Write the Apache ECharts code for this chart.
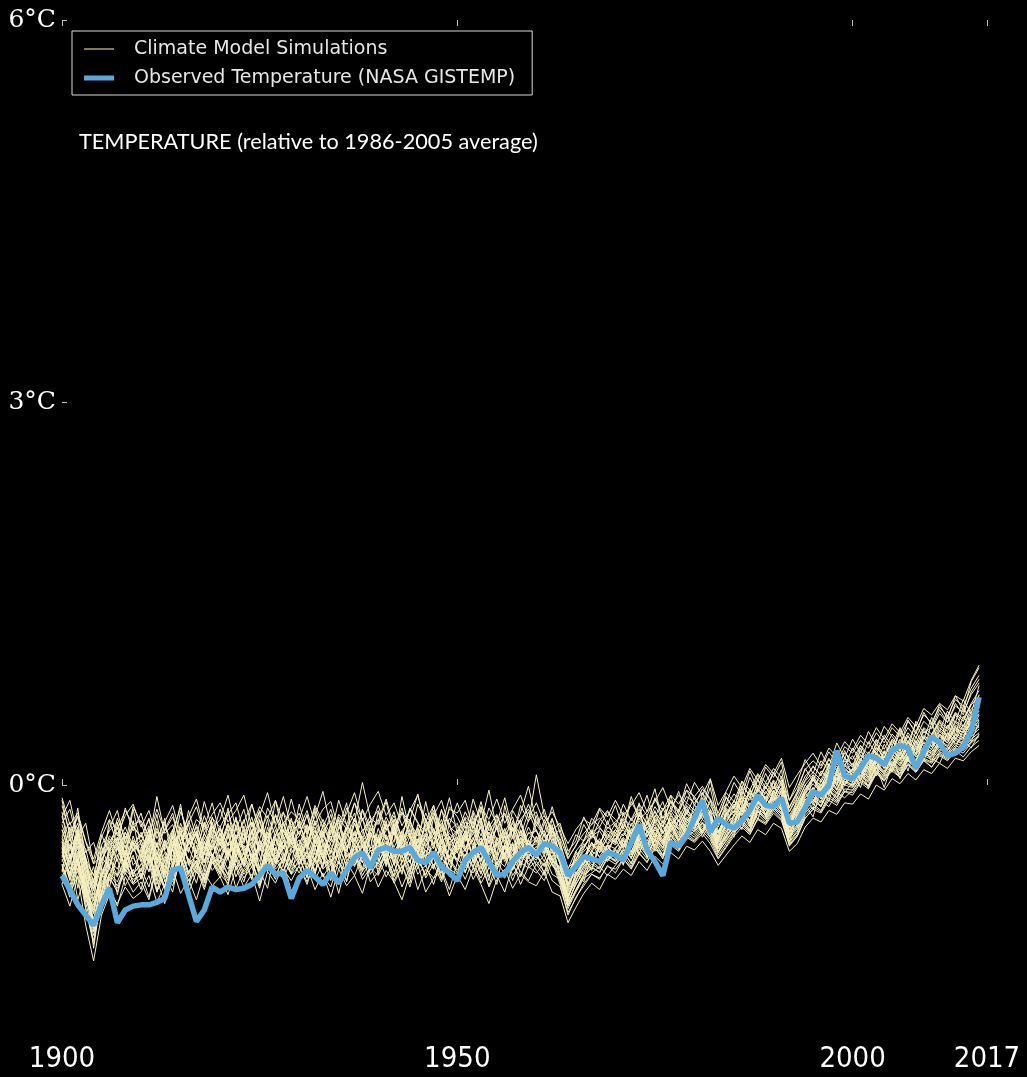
<!DOCTYPE html>
<html>
<head>
<meta charset="utf-8">
<script src="https://cdn.jsdelivr.net/npm/echarts@6/dist/echarts.min.js"></script>
<style>html,body{margin:0;padding:0;background:#000;}#c{width:1027px;height:1077px;}</style>
</head>
<body>
<div id="c"></div>
<script>
const firstYear = 1900;
const xTicks = [1900, 1950, 2000, 2017];
const yTicks = [0, 3, 6];
const legendNames = ['Climate Model Simulations', 'Observed Temperature (NASA GISTEMP)'];
const titleText = 'TEMPERATURE (relative to 1986-2005 average)';

const observed = [
-.71,-.82,-.94,-1.02,-1.10,-.94,-.81,-1.08,-.98,-.95,
-.94,-.94,-.92,-.89,-.67,-.65,-.86,-1.07,-.98,-.80,
-.84,-.80,-.82,-.81,-.78,-.71,-.63,-.70,-.69,-.89,
-.73,-.67,-.72,-.78,-.69,-.77,-.67,-.57,-.53,-.65,
-.51,-.49,-.52,-.52,-.49,-.59,-.61,-.53,-.64,-.69,
-.75,-.59,-.53,-.49,-.60,-.71,-.70,-.60,-.53,-.49,
-.55,-.46,-.48,-.53,-.71,-.64,-.56,-.58,-.60,-.53,
-.55,-.59,-.45,-.31,-.51,-.60,-.71,-.45,-.48,-.40,
-.26,-.12,-.37,-.26,-.31,-.34,-.28,-.20,-.08,-.16,
-.17,-.10,-.30,-.29,-.18,-.05,-.08,.00,.27,.07,
.05,.13,.23,.21,.16,.27,.31,.29,.13,.26,
.38,.33,.23,.25,.30,.42,.69];

const p1 = [-.52,-.71,-.45,-.80,-.98,-.66,-.75,-.49,-.63,-.57,-.68,-.41,-.59,-.73,-.50,-.38,-.62,-.55,-.71,-.46,-.58,-.37,-.66,-.52,-.74,-.44,-.60,-.35,-.53,-.69,-.47,-.63,-.39,-.57,-.75,-.51,-.34,-.60,-.48,-.66,-.42,-.58,-.71,-.45,-.55,-.36,-.64,-.52,-.73,-.49,-.61,-.40,-.56,-.70,-.47,-.59,-.38,-.67,-.50,-.44,-.57,-.49,-.62,-.71,-.90,-.68,-.76,-.54,-.63,-.48,-.55,-.42,-.58,-.39,-.49,-.33,-.46,-.30,-.41,-.26,-.35,-.22,-.31,-.44,-.29,-.37,-.20,-.28,-.12,-.19,-.08,-.15,-.33,-.21,-.09,-.02,-.11,.06,-.03,.09,.04,.15,.09,.21,.13,.25,.17,.30,.22,.27,.36,.29,.41,.35,.47,.42,.55];
const p2 = [-.70,-.88,-.65,-.97,-1.22,-.90,-.79,-.95,-.72,-.84,-.76,-.90,-.64,-.82,-.71,-.59,-.85,-.68,-.77,-.60,-.73,-.56,-.81,-.66,-.58,-.79,-.62,-.74,-.54,-.70,-.64,-.78,-.57,-.72,-.62,-.85,-.60,-.71,-.55,-.76,-.68,-.54,-.75,-.63,-.80,-.59,-.70,-.57,-.66,-.82,-.61,-.74,-.58,-.77,-.65,-.71,-.84,-.63,-.72,-.56,-.67,-.75,-.60,-.78,-1.02,-.88,-.79,-.70,-.74,-.63,-.69,-.58,-.66,-.54,-.60,-.50,-.57,-.47,-.52,-.41,-.45,-.38,-.46,-.58,-.49,-.40,-.33,-.39,-.27,-.31,-.22,-.28,-.47,-.40,-.26,-.19,-.22,-.12,-.16,-.05,-.08,.02,-.03,.09,.04,.11,.06,.16,.10,.19,.14,.24,.20,.28,.25,.33,.38];
const p3 = [-.35,-.56,-.41,-.63,-.81,-.52,-.44,-.60,-.37,-.50,-.43,-.58,-.36,-.52,-.61,-.33,-.47,-.39,-.55,-.30,-.48,-.35,-.57,-.42,-.29,-.51,-.40,-.60,-.36,-.46,-.52,-.31,-.44,-.58,-.37,-.27,-.49,-.41,-.56,-.34,-.45,-.60,-.32,-.49,-.38,-.54,-.28,-.46,-.40,-.57,-.37,-.50,-.43,-.26,-.55,-.44,-.35,-.52,-.31,-.47,-.41,-.54,-.36,-.58,-.73,-.60,-.52,-.46,-.50,-.38,-.45,-.33,-.41,-.28,-.37,-.24,-.33,-.20,-.29,-.16,-.22,-.14,-.25,-.33,-.18,-.24,-.08,-.16,-.03,-.10,.02,-.06,-.24,-.13,.00,.08,.02,.14,.07,.19,.14,.23,.18,.29,.22,.34,.27,.38,.31,.42,.38,.49,.44,.56,.50,.63,.70];
const p4 = [-.58,-.74,-.55,-.85,-1.08,-.79,-.66,-.72,-.60,-.77,-.65,-.80,-.57,-.70,-.84,-.52,-.68,-.59,-.73,-.55,-.69,-.51,-.63,-.76,-.54,-.67,-.48,-.71,-.58,-.64,-.56,-.72,-.50,-.66,-.59,-.78,-.53,-.64,-.47,-.70,-.60,-.49,-.68,-.55,-.74,-.52,-.63,-.78,-.57,-.66,-.70,-.54,-.65,-.49,-.72,-.60,-.56,-.75,-.59,-.51,-.63,-.55,-.70,-.74,-.95,-.82,-.71,-.64,-.69,-.56,-.60,-.51,-.62,-.45,-.55,-.42,-.50,-.38,-.46,-.34,-.39,-.30,-.37,-.52,-.41,-.33,-.27,-.35,-.19,-.26,-.15,-.22,-.40,-.33,-.19,-.11,-.16,-.04,-.09,.02,-.01,.08,.03,.14,.09,.18,.12,.22,.16,.24,.22,.30,.27,.35,.32,.40,.46];
const p5 = [-.44,-.63,-.38,-.57,-.90,-.71,-.52,-.46,-.65,-.40,-.57,-.35,-.62,-.48,-.41,-.66,-.45,-.33,-.59,-.50,-.38,-.55,-.47,-.64,-.36,-.52,-.44,-.61,-.40,-.32,-.58,-.43,-.35,-.54,-.62,-.39,-.51,-.30,-.47,-.60,-.40,-.53,-.37,-.61,-.45,-.33,-.56,-.48,-.38,-.63,-.49,-.36,-.60,-.44,-.52,-.31,-.58,-.45,-.65,-.42,-.35,-.51,-.46,-.62,-.81,-.63,-.57,-.45,-.53,-.47,-.39,-.50,-.35,-.44,-.30,-.41,-.28,-.36,-.22,-.32,-.27,-.17,-.30,-.40,-.25,-.15,-.24,-.09,-.19,-.05,-.13,-.02,-.30,-.18,-.07,.04,-.05,.10,.01,.13,.08,.19,.12,.24,.17,.29,.20,.33,.25,.37,.31,.42,.36,.47,.43,.53,.61];
const p6 = [-.78,-.95,-.72,-1.10,-1.38,-1.02,-.86,-.93,-.80,-.89,-.84,-.71,-.92,-.78,-.66,-.85,-.74,-.90,-.69,-.79,-.72,-.86,-.65,-.80,-.70,-.91,-.68,-.77,-.62,-.83,-.75,-.64,-.82,-.69,-.88,-.66,-.79,-.71,-.85,-.63,-.80,-.67,-.76,-.90,-.70,-.62,-.84,-.73,-.68,-.87,-.71,-.82,-.65,-.78,-.93,-.74,-.66,-.81,-.70,-.76,-.79,-.68,-.84,-.87,-1.08,-.96,-.85,-.77,-.82,-.70,-.74,-.66,-.71,-.60,-.67,-.56,-.62,-.53,-.58,-.48,-.51,-.44,-.52,-.63,-.55,-.47,-.40,-.45,-.35,-.39,-.30,-.34,-.52,-.46,-.33,-.26,-.29,-.20,-.23,-.14,-.15,-.07,-.11,.00,-.04,.05,.01,.09,.04,.12,.09,.17,.13,.21,.19,.26,.31];
const p7 = [-.25,-.44,-.30,-.58,-.71,-.47,-.36,-.29,-.50,-.33,-.41,-.27,-.49,-.35,-.22,-.46,-.38,-.53,-.30,-.42,-.34,-.48,-.26,-.43,-.37,-.21,-.45,-.32,-.50,-.28,-.39,-.24,-.46,-.33,-.19,-.41,-.52,-.30,-.44,-.36,-.27,-.43,-.35,-.18,-.40,-.49,-.31,-.25,-.45,-.38,-.45,-.29,-.37,-.52,-.33,-.23,-.42,-.36,-.28,-.47,-.31,-.40,-.26,-.48,-.66,-.52,-.44,-.37,-.33,-.42,-.35,-.26,-.32,-.21,-.30,-.17,-.26,-.13,-.21,-.09,-.14,-.06,-.16,-.27,-.10,-.18,-.01,-.08,.04,-.03,.09,.02,-.17,-.06,.07,.14,.08,.21,.12,.25,.20,.31,.24,.36,.28,.40,.33,.45,.37,.50,.44,.56,.49,.62,.57,.71,.80];
const p8 = [-.60,-.47,-.69,-.78,-1.00,-.73,-.58,-.66,-.51,-.70,-.62,-.49,-.75,-.56,-.64,-.45,-.70,-.52,-.61,-.43,-.67,-.54,-.44,-.63,-.50,-.72,-.47,-.59,-.68,-.53,-.49,-.65,-.57,-.42,-.61,-.53,-.70,-.46,-.58,-.64,-.55,-.41,-.63,-.50,-.68,-.47,-.57,-.66,-.44,-.60,-.52,-.69,-.48,-.60,-.43,-.65,-.55,-.47,-.71,-.54,-.59,-.46,-.63,-.70,-.88,-.75,-.64,-.57,-.61,-.52,-.57,-.47,-.55,-.43,-.51,-.38,-.47,-.34,-.43,-.31,-.36,-.27,-.34,-.49,-.37,-.29,-.22,-.31,-.16,-.23,-.11,-.19,-.37,-.28,-.14,-.07,-.13,.00,-.06,.05,.02,.12,.06,.17,.11,.21,.15,.25,.19,.28,.25,.34,.30,.39,.35,.44,.50];
const p9 = [-.63,-.82,-.59,-.75,-1.15,-.88,-.70,-.79,-.66,-.74,-.71,-.59,-.82,-.67,-.76,-.56,-.72,-.63,-.80,-.58,-.64,-.75,-.57,-.70,-.61,-.78,-.55,-.68,-.73,-.59,-.69,-.55,-.74,-.62,-.58,-.77,-.64,-.53,-.71,-.60,-.57,-.72,-.61,-.80,-.65,-.54,-.73,-.62,-.76,-.58,-.67,-.56,-.74,-.63,-.79,-.60,-.70,-.58,-.68,-.75,-.62,-.71,-.57,-.76,-.97,-.84,-.73,-.69,-.64,-.71,-.63,-.55,-.64,-.50,-.58,-.46,-.55,-.42,-.50,-.38,-.43,-.34,-.41,-.55,-.46,-.37,-.30,-.36,-.23,-.29,-.18,-.25,-.45,-.37,-.22,-.15,-.20,-.08,-.13,-.03,-.04,.05,.00,.11,.06,.14,.09,.19,.13,.21,.18,.26,.23,.31,.28,.36,.41];
const p10 = [-.40,-.58,-.33,-.62,-.79,-.60,-.45,-.37,-.55,-.43,-.50,-.36,-.58,-.44,-.62,-.39,-.53,-.31,-.49,-.57,-.42,-.56,-.34,-.51,-.45,-.60,-.37,-.48,-.29,-.53,-.46,-.33,-.55,-.40,-.50,-.62,-.38,-.47,-.35,-.52,-.48,-.30,-.54,-.43,-.38,-.59,-.45,-.34,-.55,-.41,-.53,-.39,-.47,-.32,-.57,-.46,-.40,-.55,-.36,-.49,-.44,-.36,-.52,-.60,-.79,-.66,-.58,-.49,-.44,-.51,-.42,-.35,-.46,-.31,-.40,-.27,-.38,-.24,-.32,-.20,-.26,-.16,-.24,-.37,-.22,-.13,-.19,-.06,-.14,-.02,-.09,.01,-.27,-.16,-.03,.06,-.01,.12,.05,.16,.11,.21,.14,.26,.19,.31,.24,.35,.28,.39,.34,.45,.39,.50,.46,.57,.64];
const p11 = [-.47,-.66,-.52,-.73,-.94,-.68,-.57,-.50,-.62,-.45,-.55,-.68,-.46,-.60,-.51,-.66,-.42,-.57,-.64,-.48,-.52,-.39,-.60,-.47,-.65,-.43,-.56,-.49,-.62,-.41,-.57,-.45,-.61,-.38,-.53,-.47,-.64,-.42,-.55,-.50,-.44,-.62,-.50,-.57,-.40,-.66,-.48,-.55,-.43,-.59,-.47,-.56,-.41,-.63,-.52,-.45,-.60,-.49,-.57,-.43,-.54,-.47,-.58,-.66,-.86,-.72,-.62,-.55,-.50,-.57,-.49,-.43,-.53,-.38,-.46,-.35,-.43,-.31,-.37,-.27,-.32,-.21,-.29,-.43,-.31,-.24,-.17,-.25,-.10,-.17,-.07,-.13,-.34,-.24,-.10,-.03,-.08,.05,.00,.10,.06,.16,.10,.21,.15,.24,.19,.29,.23,.33,.28,.38,.33,.43,.39,.48,.56];
const p12 = [-.55,-.70,-.62,-.86,-1.05,-.77,-.64,-.71,-.58,-.69,-.63,-.55,-.72,-.60,-.49,-.70,-.58,-.66,-.52,-.67,-.59,-.71,-.50,-.64,-.56,-.69,-.53,-.62,-.47,-.66,-.61,-.52,-.67,-.57,-.70,-.49,-.63,-.55,-.68,-.51,-.64,-.53,-.60,-.48,-.66,-.58,-.71,-.52,-.62,-.56,-.58,-.65,-.51,-.69,-.57,-.63,-.48,-.66,-.55,-.62,-.56,-.64,-.52,-.71,-.91,-.78,-.68,-.60,-.65,-.55,-.59,-.50,-.57,-.44,-.52,-.40,-.49,-.36,-.44,-.32,-.37,-.29,-.36,-.50,-.40,-.31,-.25,-.33,-.18,-.24,-.13,-.20,-.39,-.31,-.17,-.09,-.14,-.02,-.07,.03,.00,.10,.05,.15,.10,.19,.13,.23,.17,.26,.23,.32,.28,.37,.33,.42,.47];
const p13 = [-.16,-.38,-.24,-.45,-.62,-.41,-.27,-.35,-.20,-.31,-.28,-.40,-.19,-.36,-.25,-.44,-.30,-.17,-.38,-.26,-.33,-.21,-.42,-.29,-.15,-.37,-.24,-.40,-.22,-.31,-.27,-.39,-.18,-.34,-.43,-.23,-.31,-.14,-.36,-.28,-.20,-.35,-.27,-.41,-.19,-.30,-.37,-.24,-.12,-.33,-.38,-.25,-.31,-.17,-.42,-.29,-.22,-.36,-.27,-.19,-.30,-.24,-.36,-.42,-.58,-.47,-.38,-.31,-.26,-.34,-.29,-.21,-.27,-.15,-.24,-.11,-.20,-.08,-.15,-.04,-.09,-.01,-.11,-.22,-.06,-.13,.03,-.04,.09,.02,.13,.06,-.12,-.02,.12,.19,.13,.26,.17,.30,.25,.35,.29,.41,.33,.45,.38,.50,.42,.55,.49,.61,.54,.67,.62,.76,.86];
const p14 = [-.66,-.85,-.61,-.92,-1.18,-.95,-.74,-.81,-.69,-.78,-.73,-.62,-.84,-.70,-.79,-.58,-.75,-.66,-.82,-.60,-.70,-.77,-.59,-.73,-.64,-.81,-.57,-.72,-.66,-.75,-.63,-.76,-.58,-.71,-.80,-.60,-.69,-.56,-.74,-.65,-.71,-.58,-.77,-.64,-.59,-.82,-.66,-.73,-.61,-.70,-.76,-.62,-.69,-.57,-.80,-.67,-.73,-.60,-.78,-.64,-.69,-.61,-.75,-.80,-1.00,-.89,-.77,-.70,-.73,-.64,-.66,-.58,-.65,-.53,-.61,-.48,-.56,-.45,-.51,-.40,-.44,-.36,-.43,-.57,-.48,-.38,-.31,-.38,-.26,-.30,-.20,-.27,-.46,-.39,-.24,-.17,-.21,-.10,-.14,-.05,-.06,.03,-.01,.10,.05,.13,.08,.17,.11,.20,.17,.25,.21,.29,.27,.34,.39];
const p15 = [-.49,-.60,-.43,-.69,-.86,-.63,-.55,-.47,-.58,-.51,-.46,-.61,-.53,-.70,-.44,-.57,-.49,-.63,-.41,-.55,-.60,-.45,-.53,-.38,-.57,-.48,-.64,-.42,-.55,-.50,-.43,-.58,-.49,-.62,-.45,-.37,-.56,-.51,-.40,-.59,-.52,-.44,-.60,-.39,-.55,-.47,-.63,-.41,-.50,-.57,-.45,-.59,-.50,-.42,-.61,-.48,-.55,-.40,-.58,-.46,-.51,-.43,-.59,-.65,-.84,-.70,-.61,-.52,-.56,-.47,-.50,-.41,-.49,-.36,-.44,-.33,-.41,-.29,-.35,-.25,-.30,-.19,-.28,-.41,-.27,-.20,-.14,-.22,-.07,-.14,-.04,-.11,-.31,-.21,-.07,.01,-.06,.08,.02,.12,.08,.18,.11,.22,.16,.27,.20,.31,.24,.34,.30,.40,.35,.45,.41,.50,.58];
const p16 = [-.31,-.50,-.37,-.61,-.76,-.55,-.40,-.46,-.33,-.48,-.39,-.51,-.34,-.47,-.56,-.30,-.45,-.37,-.52,-.33,-.47,-.32,-.50,-.38,-.44,-.28,-.53,-.40,-.35,-.49,-.36,-.48,-.30,-.45,-.52,-.33,-.41,-.26,-.47,-.39,-.44,-.31,-.49,-.36,-.27,-.50,-.40,-.46,-.32,-.45,-.41,-.52,-.35,-.47,-.29,-.43,-.50,-.34,-.46,-.38,-.36,-.45,-.33,-.55,-.72,-.58,-.49,-.40,-.45,-.36,-.40,-.31,-.38,-.26,-.34,-.21,-.30,-.18,-.25,-.14,-.20,-.10,-.19,-.31,-.15,-.22,-.05,-.12,.00,-.07,.04,-.04,-.21,-.10,.03,.10,.04,.16,.09,.21,.16,.26,.20,.32,.24,.36,.29,.41,.33,.45,.40,.51,.45,.57,.52,.64,.74];
const p17 = [-.53,-.69,-.48,-.82,-.96,-.70,-.61,-.55,-.67,-.50,-.60,-.47,-.66,-.53,-.71,-.49,-.58,-.64,-.45,-.62,-.55,-.66,-.48,-.60,-.53,-.70,-.46,-.61,-.57,-.44,-.62,-.51,-.68,-.46,-.59,-.55,-.41,-.63,-.52,-.67,-.48,-.60,-.54,-.70,-.45,-.62,-.51,-.57,-.69,-.47,-.59,-.50,-.64,-.45,-.58,-.67,-.49,-.61,-.53,-.60,-.55,-.63,-.50,-.69,-.87,-.74,-.64,-.56,-.60,-.51,-.56,-.46,-.54,-.41,-.49,-.37,-.45,-.33,-.41,-.29,-.34,-.24,-.32,-.46,-.35,-.27,-.20,-.28,-.13,-.20,-.09,-.16,-.36,-.26,-.12,-.05,-.10,.02,-.04,.07,.03,.13,.08,.19,.13,.22,.16,.26,.20,.30,.26,.35,.31,.40,.37,.46,.52];
const p18 = [-.62,-.79,-.57,-.88,-1.12,-.84,-.69,-.76,-.61,-.72,-.67,-.55,-.78,-.63,-.72,-.52,-.69,-.60,-.75,-.57,-.64,-.73,-.55,-.68,-.60,-.76,-.52,-.66,-.59,-.70,-.58,-.71,-.62,-.54,-.69,-.60,-.75,-.53,-.67,-.61,-.66,-.55,-.72,-.60,-.51,-.70,-.63,-.57,-.74,-.59,-.69,-.56,-.64,-.73,-.58,-.66,-.53,-.71,-.61,-.65,-.60,-.68,-.55,-.74,-.94,-.83,-.72,-.65,-.68,-.58,-.62,-.53,-.61,-.47,-.56,-.43,-.52,-.40,-.47,-.36,-.41,-.32,-.39,-.53,-.43,-.35,-.28,-.35,-.21,-.27,-.17,-.23,-.42,-.34,-.20,-.12,-.17,-.05,-.10,.00,-.02,.07,.02,.13,.07,.16,.11,.20,.14,.23,.20,.28,.25,.33,.30,.38,.44];
const p19 = [-.42,-.61,-.36,-.66,-.83,-.58,-.48,-.41,-.57,-.45,-.53,-.40,-.61,-.47,-.35,-.58,-.44,-.54,-.38,-.51,-.45,-.58,-.39,-.52,-.46,-.34,-.56,-.43,-.50,-.37,-.54,-.41,-.49,-.36,-.57,-.45,-.52,-.38,-.48,-.59,-.43,-.55,-.37,-.50,-.61,-.42,-.48,-.35,-.53,-.46,-.50,-.40,-.56,-.44,-.37,-.55,-.47,-.60,-.41,-.49,-.46,-.53,-.39,-.60,-.78,-.65,-.56,-.47,-.51,-.42,-.47,-.38,-.44,-.33,-.41,-.29,-.38,-.26,-.32,-.22,-.27,-.18,-.26,-.38,-.23,-.16,-.10,-.19,-.04,-.11,-.02,-.08,-.28,-.17,-.04,.05,-.01,.11,.04,.15,.10,.20,.14,.25,.18,.30,.23,.34,.27,.38,.33,.43,.38,.49,.44,.55,.63];
const p20 = [-.50,-.72,-.41,-.78,-1.28,-.85,-.63,-.47,-.70,-.55,-.74,-.43,-.66,-.80,-.48,-.36,-.61,-.77,-.52,-.40,-.63,-.79,-.44,-.58,-.35,-.67,-.81,-.49,-.62,-.38,-.56,-.73,-.42,-.65,-.31,-.59,-.76,-.46,-.61,-.40,-.70,-.48,-.32,-.63,-.77,-.51,-.39,-.66,-.45,-.72,-.41,-.68,-.54,-.29,-.62,-.78,-.47,-.58,-.36,-.64,-.52,-.70,-.45,-.73,-.94,-.76,-.58,-.67,-.48,-.60,-.51,-.63,-.40,-.55,-.36,-.48,-.31,-.45,-.27,-.39,-.22,-.38,-.26,-.50,-.30,-.41,-.15,-.33,-.09,-.24,-.04,-.18,-.41,-.22,-.06,-.15,.04,-.07,.11,.00,.13,.05,.22,.10,.26,.15,.31,.19,.35,.24,.40,.30,.47,.36,.54,.45,.62];

const n1 = [-.21,-.58,-.35,-.72,-.91,-.48,-.66,-.30,-.55,-.19,-.47,-.62,-.28,-.70,-.41,-.15,-.52,-.36,-.68,-.25,-.44,-.18,-.57,-.32,-.61,-.27,-.49,-.12,-.40,-.63,-.29,-.51,-.20,-.46,-.71,-.33,-.14,-.55,-.38,-.24,-.60,-.31,-.45,-.09,-.37,-.58,-.26,-.50,-.19,-.43,-.35,-.62,-.22,-.48,-.30,-.57,-.16,-.41,-.27,-.53,-.24,-.46,-.31,-.58,-.79,-.52,-.63,-.37,-.49,-.28,-.45,-.22,-.39,-.14,-.50,-.26,-.33,-.08,-.29,-.17,-.31,-.06,-.24,-.42,-.19,-.33,-.02,-.21,.05,-.14,.03,-.18,-.37,-.09,-.22,.08,-.05,.17,-.01,.22,.06,.29,.12,.35,.18,.27,.41,.20,.38,.26,.49,.31,.55,.39,.62,.47,.71];
const n2 = [-.68,-.39,-.81,-.57,-1.12,-.74,-.49,-.86,-.62,-.44,-.73,-.51,-.84,-.59,-.38,-.66,-.80,-.47,-.61,-.35,-.57,-.70,-.42,-.63,-.29,-.55,-.68,-.40,-.59,-.33,-.62,-.45,-.71,-.36,-.54,-.27,-.60,-.48,-.66,-.41,-.39,-.64,-.30,-.55,-.70,-.43,-.58,-.25,-.51,-.67,-.46,-.32,-.61,-.53,-.75,-.41,-.57,-.34,-.63,-.48,-.55,-.38,-.60,-.64,-.88,-.71,-.57,-.66,-.45,-.59,-.50,-.62,-.41,-.54,-.36,-.48,-.58,-.30,-.43,-.35,-.22,-.41,-.30,-.49,-.40,-.23,-.35,-.14,-.27,-.09,-.20,-.04,-.41,-.32,-.15,-.25,-.02,-.13,.09,-.06,.02,.15,-.03,.19,.08,.24,.05,.21,.13,.30,.18,.36,.25,.29,.43,.34,.49];
const n3 = [-.12,-.40,-.25,-.53,-.45,-.66,-.28,-.47,-.18,-.36,-.22,-.44,-.09,-.38,-.31,-.52,-.20,-.41,-.13,-.34,-.27,-.08,-.35,-.19,-.43,-.24,-.06,-.32,-.21,-.46,-.15,-.37,-.25,-.05,-.33,-.41,-.18,-.29,.02,-.26,-.31,-.13,-.39,-.22,-.28,-.07,-.36,-.20,-.45,-.17,-.25,-.38,-.11,-.30,-.04,-.35,-.23,-.42,-.16,-.29,.08,-.24,-.35,-.30,-.52,-.44,-.25,-.38,-.19,-.31,-.16,-.34,-.09,-.27,-.21,-.03,-.30,-.12,-.20,.01,-.11,-.19,.04,-.24,-.15,.02,-.08,.11,-.03,.14,.06,.18,-.12,.02,.20,.09,.26,.14,.33,.21,.36,.25,.42,.31,.46,.38,.29,.51,.40,.57,.47,.63,.52,.70,.58,.81,.92];
const n4 = [-.49,-.75,-.53,-.97,-1.25,-.83,-.58,-.71,-.40,-.63,-.55,-.34,-.69,-.81,-.46,-.60,-.37,-.52,-.29,-.57,-.38,-.59,-.31,-.50,-.42,-.65,-.33,-.54,-.45,-.26,-.52,-.39,-.60,-.31,-.47,-.56,-.35,-.22,-.49,-.38,-.46,-.28,-.53,-.40,-.61,-.34,-.48,-.38,-.57,-.30,-.51,-.44,-.28,-.55,-.40,-.63,-.46,-.33,-.52,-.37,-.43,-.56,-.33,-.49,-.83,-.64,-.70,-.51,-.42,-.55,-.37,-.49,-.30,-.44,-.24,-.52,-.35,-.27,-.39,-.21,-.34,-.18,-.28,-.53,-.37,-.25,-.12,-.30,-.10,-.20,-.05,-.15,-.45,-.24,-.11,-.19,.01,-.08,.12,.04,.10,-.02,.18,.07,.23,.14,.28,.11,.31,.19,.34,.26,.41,.32,.38,.50,.45];
const n5 = [-.35,-.52,-.18,-.61,-.70,-.88,-.45,-.33,-.57,-.28,-.60,-.39,-.48,-.26,-.65,-.44,-.31,-.58,-.38,-.49,-.33,-.48,-.25,-.55,-.37,-.20,-.52,-.39,-.29,-.47,-.40,-.23,-.49,-.36,-.28,-.53,-.31,-.44,-.26,-.50,-.21,-.42,-.35,-.54,-.27,-.46,-.13,-.39,-.30,-.48,-.42,-.26,-.50,-.19,-.45,-.34,-.55,-.28,-.40,-.21,-.36,-.50,-.27,-.44,-.69,-.58,-.46,-.54,-.34,-.40,-.46,-.29,-.41,-.23,-.35,-.44,-.18,-.32,-.24,-.36,-.15,-.27,-.12,-.36,-.29,-.20,-.24,-.04,-.16,-.01,-.12,.04,-.30,-.17,-.06,.06,-.09,.10,.03,.16,.23,.12,.26,.17,.32,.22,.36,.25,.42,.30,.39,.50,.37,.55,.46,.60,.66];
const n6 = [-.62,-.85,-.71,-.90,-1.05,-.92,-.70,-.58,-.79,-.66,-.82,-.57,-.74,-.93,-.65,-.51,-.70,-.60,-.76,-.54,-.66,-.49,-.72,-.58,-.47,-.69,-.53,-.64,-.43,-.61,-.50,-.67,-.44,-.58,-.63,-.40,-.57,-.48,-.61,-.37,-.55,-.45,-.62,-.36,-.52,-.60,-.42,-.56,-.33,-.50,-.59,-.38,-.55,-.47,-.66,-.52,-.40,-.61,-.45,-.56,-.48,-.60,-.42,-.62,-.92,-.78,-.66,-.55,-.61,-.47,-.58,-.44,-.52,-.39,-.57,-.42,-.49,-.31,-.45,-.38,-.27,-.36,-.21,-.47,-.42,-.30,-.19,-.32,-.11,-.25,-.14,-.22,-.44,-.36,-.20,-.09,-.17,-.03,-.12,.05,-.01,.11,.04,.14,-.02,.17,.09,.23,.12,.26,.21,.17,.30,.24,.35,.29,.40];
const n7 = [-.30,-.19,-.44,-.50,-.77,-.39,-.53,-.26,-.42,-.32,-.41,-.26,-.55,-.30,-.49,-.21,-.37,-.46,-.24,-.40,-.19,-.36,-.28,-.45,-.15,-.34,-.41,-.23,-.37,-.11,-.34,-.20,-.42,-.27,-.39,-.12,-.31,-.40,-.19,-.33,-.16,-.35,-.24,-.41,-.18,-.29,-.44,-.22,-.33,-.10,-.38,-.21,-.34,-.13,-.36,-.27,-.47,-.20,-.31,-.15,-.32,-.19,-.40,-.35,-.57,-.48,-.31,-.42,-.28,-.20,-.33,-.15,-.28,-.19,-.31,-.10,-.26,-.21,-.05,-.23,-.09,-.20,-.02,-.30,-.17,-.07,-.14,.06,-.06,.09,-.03,.12,-.21,-.07,.04,.15,.07,.20,.11,.27,.14,.31,.20,.27,.37,.25,.44,.33,.48,.36,.53,.42,.58,.49,.67,.56,.78];
const n8 = [-.57,-.33,-.61,-.79,-.64,-.97,-.51,-.42,-.68,-.48,-.37,-.56,-.71,-.43,-.59,-.33,-.63,-.41,-.50,-.29,-.52,-.31,-.46,-.62,-.36,-.51,-.27,-.58,-.35,-.44,-.28,-.49,-.36,-.55,-.30,-.45,-.52,-.26,-.43,-.58,-.34,-.52,-.27,-.47,-.56,-.31,-.40,-.16,-.46,-.36,-.30,-.49,-.38,-.26,-.53,-.32,-.44,-.57,-.35,-.47,-.52,-.30,-.45,-.57,-.74,-.61,-.50,-.36,-.53,-.41,-.30,-.47,-.37,-.50,-.28,-.39,-.46,-.22,-.35,-.30,-.25,-.38,-.19,-.44,-.22,-.35,-.09,-.25,-.13,-.19,-.09,-.20,-.33,-.21,-.14,-.02,-.11,.07,-.04,.11,.17,.03,.20,.13,.27,.10,.24,.18,.34,.23,.28,.40,.33,.46,.36,.53,.58];
const n9 = [-.25,-.12,-.41,-.30,-.62,-.55,-.34,-.20,-.46,-.17,-.30,-.47,-.23,-.51,-.36,-.18,-.44,-.27,-.33,-.14,-.40,-.23,-.14,-.37,-.29,-.43,-.18,-.30,-.09,-.34,-.22,-.38,-.16,-.29,-.44,-.25,-.35,-.14,-.27,-.40,-.28,-.11,-.33,-.21,-.42,-.15,-.27,-.38,-.20,-.31,-.14,-.33,-.26,-.40,-.18,-.30,-.10,-.36,-.22,-.01,-.29,-.37,-.17,-.38,-.55,-.39,-.44,-.26,-.33,-.21,-.27,-.34,-.13,-.25,-.08,-.30,-.19,-.14,-.22,-.04,-.16,-.03,-.12,-.26,-.09,-.19,.03,-.10,.08,-.02,.10,.00,-.18,-.05,.13,.03,.19,.12,.24,.15,.29,.19,.34,.24,.39,.31,.45,.28,.50,.41,.45,.59,.49,.64,.55,.73,.83];
const n10 = [-.45,-.66,-.58,-.83,-1.01,-.69,-.80,-.55,-.47,-.72,-.50,-.68,-.45,-.76,-.62,-.48,-.59,-.69,-.44,-.57,-.61,-.40,-.56,-.35,-.60,-.47,-.38,-.61,-.49,-.39,-.56,-.43,-.33,-.52,-.40,-.58,-.45,-.37,-.55,-.32,-.50,-.39,-.57,-.43,-.31,-.53,-.38,-.47,-.59,-.40,-.53,-.36,-.45,-.59,-.37,-.48,-.34,-.52,-.42,-.58,-.40,-.52,-.47,-.53,-.77,-.69,-.60,-.45,-.57,-.50,-.42,-.55,-.34,-.47,-.40,-.31,-.44,-.36,-.28,-.40,-.32,-.23,-.36,-.45,-.33,-.28,-.18,-.22,-.08,-.23,-.10,-.19,-.38,-.27,-.18,-.13,.00,-.07,.06,.00,.08,.16,.06,.21,.14,.11,.26,.19,.15,.29,.24,.32,.27,.37,.31,.42,.51];
const n11 = [-.40,-.29,-.50,-.66,-.82,-.60,-.42,-.51,-.37,-.52,-.45,-.32,-.58,-.64,-.40,-.50,-.28,-.45,-.54,-.32,-.46,-.30,-.43,-.27,-.50,-.35,-.44,-.24,-.42,-.36,-.31,-.45,-.28,-.41,-.23,-.48,-.33,-.45,-.20,-.38,-.42,-.25,-.38,-.46,-.29,-.40,-.22,-.35,-.43,-.26,-.33,-.44,-.20,-.35,-.46,-.24,-.39,-.30,-.45,-.28,-.21,-.41,-.36,-.46,-.65,-.59,-.43,-.35,-.47,-.33,-.38,-.27,-.43,-.22,-.37,-.25,-.13,-.33,-.19,-.29,-.20,-.10,-.31,-.38,-.24,-.12,-.21,-.03,-.15,.02,-.07,.07,-.26,-.14,.00,-.06,.11,.05,.17,.08,.12,.24,.16,.30,.21,.35,.27,.39,.24,.44,.36,.47,.42,.56,.50,.63,.69];
const n12 = [-.78,-.55,-.90,-.68,-1.15,-.99,-.72,-.84,-.59,-.77,-.69,-.88,-.62,-.80,-.71,-.55,-.79,-.63,-.74,-.58,-.70,-.52,-.66,-.59,-.74,-.48,-.63,-.55,-.68,-.50,-.63,-.53,-.70,-.46,-.59,-.66,-.51,-.61,-.44,-.57,-.62,-.47,-.58,-.68,-.45,-.60,-.51,-.64,-.48,-.56,-.44,-.60,-.53,-.66,-.49,-.58,-.64,-.46,-.61,-.52,-.57,-.46,-.63,-.70,-.95,-.82,-.70,-.62,-.66,-.54,-.60,-.51,-.57,-.46,-.53,-.44,-.55,-.39,-.48,-.41,-.36,-.30,-.41,-.52,-.44,-.35,-.29,-.37,-.20,-.27,-.18,-.25,-.48,-.40,-.26,-.19,-.12,-.17,-.06,-.10,-.04,.05,-.01,.09,.03,.13,.06,.16,.10,.20,.14,.23,.19,.27,.22,.30,.35];
const n13 = [-.10,-.31,-.22,-.44,-.58,-.37,-.20,-.40,-.24,-.15,-.33,-.20,-.42,-.29,-.16,-.39,-.25,-.11,-.35,-.23,-.14,-.29,-.20,-.08,-.33,-.17,-.26,-.12,-.30,-.21,-.27,-.09,-.31,-.19,-.13,-.35,-.22,-.06,-.28,-.15,-.05,-.24,-.14,-.32,-.20,-.08,-.29,-.16,-.37,-.19,-.22,-.12,-.34,-.17,-.27,-.11,-.30,-.19,-.08,-.26,-.14,-.30,-.21,-.33,-.46,-.35,-.27,-.31,-.18,-.25,-.12,-.24,-.16,-.06,-.21,-.13,-.02,-.18,-.08,-.14,.02,-.08,.05,-.16,-.05,.07,-.02,.13,.04,.16,.09,.21,-.02,.08,.17,.25,.15,.29,.22,.34,.27,.39,.32,.45,.36,.48,.41,.53,.46,.60,.55,.64,.59,.70,.66,.82,.94];
const n14 = [-.52,-.46,-.63,-.88,-.74,-.57,-.64,-.41,-.60,-.45,-.57,-.40,-.52,-.67,-.35,-.56,-.47,-.38,-.61,-.43,-.35,-.54,-.39,-.46,-.25,-.49,-.41,-.52,-.31,-.45,-.47,-.32,-.40,-.58,-.35,-.30,-.49,-.36,-.42,-.28,-.45,-.36,-.21,-.44,-.35,-.50,-.31,-.42,-.27,-.47,-.36,-.52,-.32,-.43,-.28,-.47,-.37,-.25,-.49,-.33,-.45,-.27,-.42,-.51,-.71,-.55,-.48,-.40,-.36,-.46,-.35,-.40,-.26,-.36,-.31,-.20,-.38,-.27,-.34,-.19,-.27,-.13,-.25,-.37,-.30,-.16,-.10,-.18,-.02,-.12,-.01,-.08,-.31,-.19,-.04,.04,-.03,.08,.15,.06,.13,.07,.22,.15,.19,.28,.21,.31,.18,.37,.30,.39,.35,.44,.41,.54,.60];

const models = [p1,p2,p3,p4,p5,p6,p7,p8,p9,p10,p11,p12,p13,p14,p15,p16,p17,p18,p19,p20,
                n1,n2,n3,n4,n5,n6,n7,n8,n9,n10,n11,n12,n13,n14];

function pairs(arr){ return arr.map((v,i)=>[firstYear+i, v]); }

const modelColor = '#f7f1c1';
const obsColor = '#5aa9dc';

const series = models.map(m => ({
  name: legendNames[0], type: 'line', data: pairs(m), symbol: 'none', silent: true,
  lineStyle: {width: 1, color: modelColor}, itemStyle: {color: modelColor}, z: 2
}));
series.push({
  name: legendNames[1], type: 'line', data: pairs(observed), symbol: 'none', silent: true,
  lineStyle: {width: 5.5, color: obsColor}, itemStyle: {color: obsColor}, z: 5
});

const chart = echarts.init(document.getElementById('c'), null, {renderer: 'canvas'});
chart.setOption({
  backgroundColor: '#000',
  animation: false,
  title: {
    text: titleText, left: 74, top: 126,
    textStyle: {fontFamily: 'Lato', fontSize: 21.7, fontWeight: 'normal', color: '#fff'}
  },
  legend: {
    data: [
      {name: legendNames[0], icon: 'path://M0,0H30V1.2H0Z', itemStyle: {color: '#d9cf98'}},
      {name: legendNames[1], icon: 'path://M0,0H30V5H0Z', itemStyle: {color: obsColor}}
    ],
    orient: 'vertical', left: 72, top: 31,
    padding: [8, 17, 7, 12], itemGap: 9, itemWidth: 30, itemHeight: 14,
    borderColor: '#d8d8d8', borderWidth: 1, backgroundColor: '#000',
    selectedMode: false,
    textStyle: {fontFamily: 'DejaVu Sans', fontSize: 19, color: '#e6e6e6', lineHeight: 20, padding: [0,0,0,15]}
  },
  grid: {left: 62, right: 40, top: 20, bottom: 37, containLabel: false},
  xAxis: [{
    type: 'value', min: 1900, max: 2017, position: 'bottom',
    axisLine: {show: false}, splitLine: {show: false},
    axisTick: {show: true, inside: true, length: 6, customValues: xTicks, lineStyle: {color: '#bbb', width: 1}},
    axisLabel: {customValues: xTicks, color: '#fff', fontFamily: "'DejaVu Sans Condensed', 'DejaVu Sans'", fontSize: 29, margin: 5, formatter: v => String(v)}
  },{
    type: 'value', min: 1900, max: 2017, position: 'top',
    axisLine: {show: false}, splitLine: {show: false},
    axisTick: {show: true, inside: true, length: 6, customValues: xTicks, lineStyle: {color: '#bbb', width: 1}},
    axisLabel: {show: false}
  }],
  yAxis: {
    type: 'value', min: -2, max: 6,
    axisLine: {show: false}, splitLine: {show: false},
    axisTick: {show: true, inside: true, length: 5, customValues: yTicks, lineStyle: {color: '#bbb', width: 1}},
    axisLabel: {customValues: yTicks, color: '#fff', fontFamily: 'DejaVu Serif', fontSize: 25, margin: 6, formatter: v => v + '°C'}
  },
  series: series
});
</script>
</body>
</html>
